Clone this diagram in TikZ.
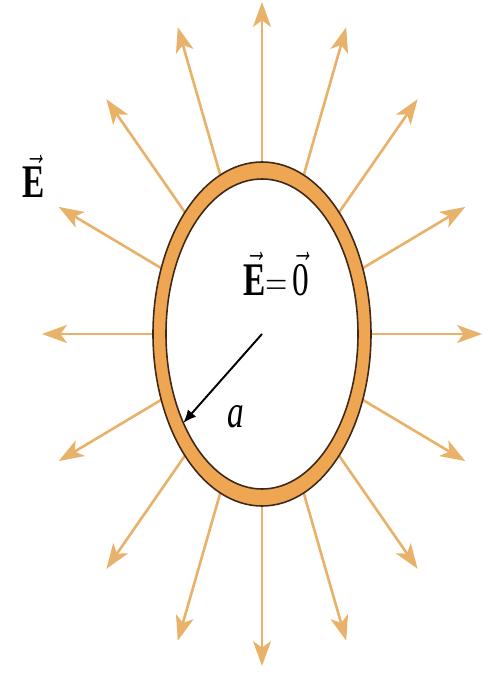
\documentclass[tikz,border=0pt]{standalone}
\usepackage{fontspec}
\setmainfont{Liberation Serif}
\usetikzlibrary{arrows.meta}
\definecolor{naranjaanillo}{HTML}{EFA653}
\definecolor{ocrecampo}{HTML}{E8B26A}
\definecolor{cafeborde}{HTML}{3E2818}
\colorlet{colAnillo}{naranjaanillo}
\colorlet{colCampo}{ocrecampo}
\colorlet{colBorde}{cafeborde}
\tikzset{
  anillo/.style={draw=colBorde, line width=0.9pt, fill=colAnillo, even odd rule},
  flechaCampo/.style={-{Stealth[length=5mm, width=3.6mm, inset=1.3mm]},
    line width=1.5pt, colCampo},
  flechaRadio/.style={-{Latex[length=2.6mm, width=2.2mm]}, line width=1.1pt, black},
  etiqueta/.style={font=\fontsize{19}{22}\selectfont, inner sep=0pt,
    yscale=1.4, anchor=base},
}

\begin{document}
\begin{tikzpicture}[scale=0.02]
  \useasboundingbox (-262,-344) rectangle (232,334);
  \coordinate (centro) at (0,0);
  \foreach \ang [count=\i] in {0,22.5,...,337.5} {
    \coordinate (ini\i) at (\ang:109 and 172);
    \coordinate (fin\i) at (\ang:220 and 332);
    \draw[flechaCampo] (ini\i) -- (fin\i);
  }
  \draw[anillo] (centro) ellipse [x radius=109, y radius=172]
                (centro) ellipse [x radius=96, y radius=155];
  \coordinate (borde) at (215:96 and 155);
  \draw[flechaRadio] (centro) -- (borde);
  \node[etiqueta] (campo) at (-228,136) {$\vec{\textbf{E}}$};
  \node[etiqueta] (nulo) at (14,39) {$\vec{\textbf{E}}{=}\,\vec{\textrm{0}}$};
  \node[etiqueta] (radio) at (-26,-93) {\textit{a}};
\end{tikzpicture}
\end{document}
